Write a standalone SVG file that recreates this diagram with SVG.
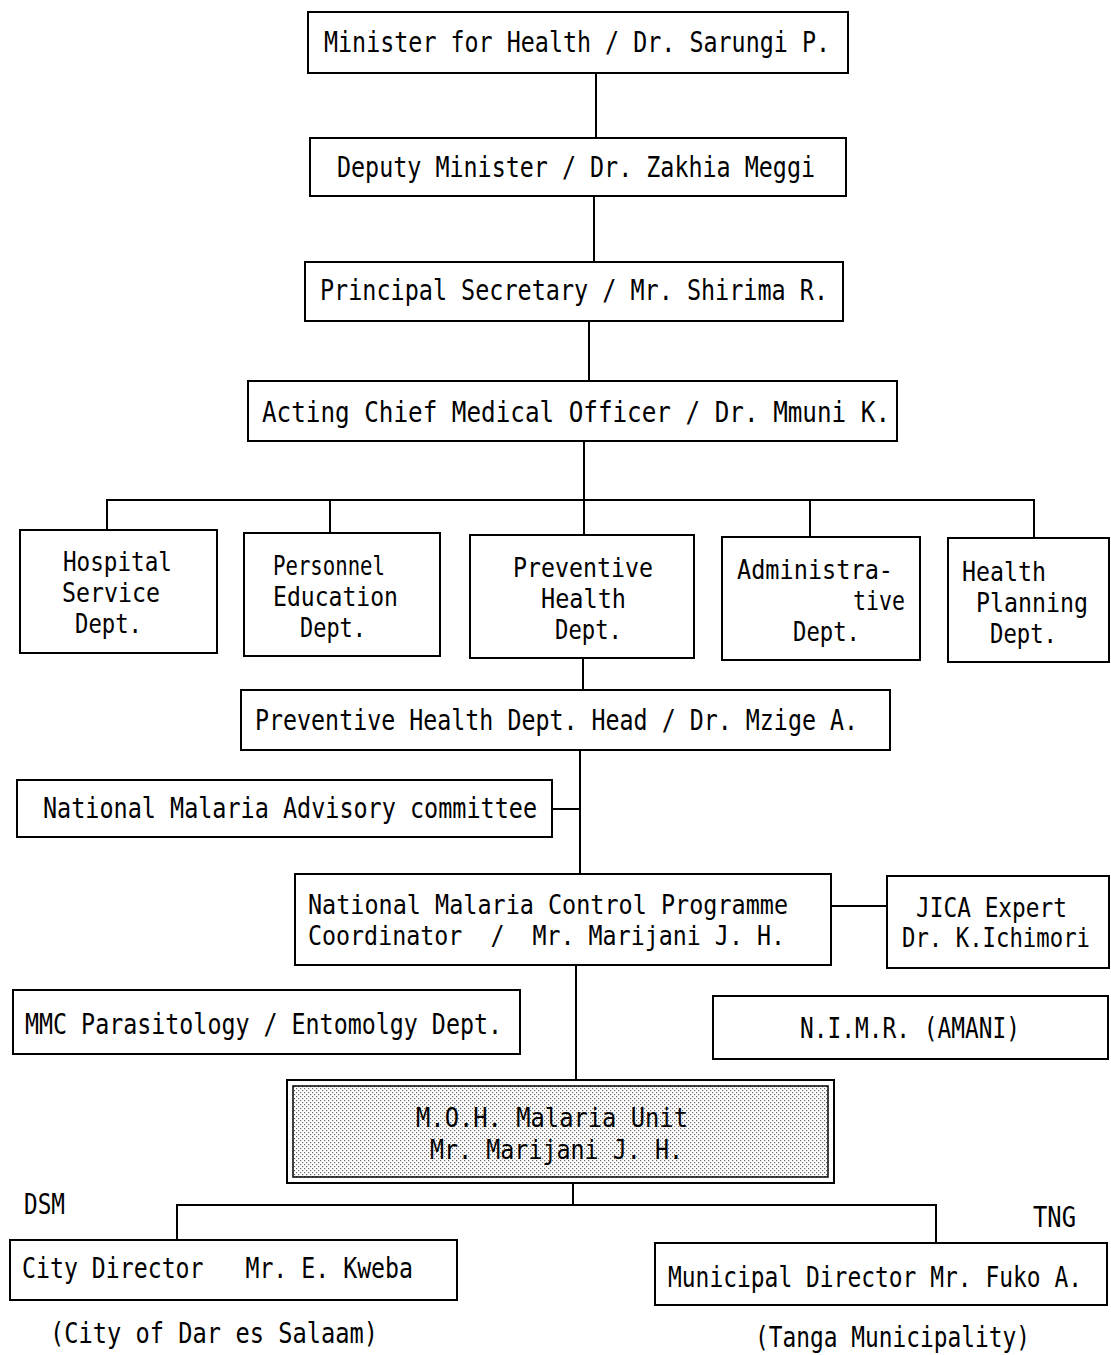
<svg xmlns="http://www.w3.org/2000/svg" width="1111" height="1355" viewBox="0 0 1111 1355">
<style>
.b{fill:#fff;stroke:#000;stroke-width:2}
.c{fill:none;stroke:#000;stroke-width:2}
text{font-family:"DejaVu Sans Mono","Liberation Mono",monospace;font-size:29px;fill:#000}
.m{font-size:26.5px}
</style>
<defs>
<pattern id="dots" width="4" height="4" patternUnits="userSpaceOnUse">
<rect width="4" height="4" fill="#fff"/>
<rect x="0" y="0" width="1.2" height="1.2" fill="#666"/>
<rect x="2" y="2" width="1.2" height="1.2" fill="#666"/>
</pattern>
</defs>
<rect width="1111" height="1355" fill="#fff"/>
<g id="connectors">
<path class="c" d="M596 73V138M594 196V262M589 321V381M584 441V500"/>
<path class="c" d="M107 530V500H1034V538M330 500V533M584 500V535M810 500V537"/>
<path class="c" d="M583 658V690M580 750V874M552 809H580M831 906H887M576 965V1080"/>
<path class="c" d="M573 1183V1205M177 1240V1205H936V1243"/>
</g>
<g id="n1"><rect class="b" x="308" y="12" width="540" height="61"/><text x="324" y="52" textLength="506" lengthAdjust="spacingAndGlyphs">Minister for Health / Dr. Sarungi P.</text></g>
<g id="n2"><rect class="b" x="310" y="138" width="536" height="58"/><text x="337" y="177" textLength="478" lengthAdjust="spacingAndGlyphs">Deputy Minister / Dr. Zakhia Meggi</text></g>
<g id="n3"><rect class="b" x="305" y="262" width="538" height="59"/><text x="320" y="300" textLength="508" lengthAdjust="spacingAndGlyphs">Principal Secretary / Mr. Shirima R.</text></g>
<g id="n4"><rect class="b" x="248" y="381" width="649" height="60"/><text x="262" y="422" textLength="628" lengthAdjust="spacingAndGlyphs">Acting Chief Medical Officer / Dr. Mmuni K.</text></g>
<g id="d1"><rect class="b" x="20" y="530" width="197" height="123"/>
<text class="m" x="63" y="571" textLength="109" lengthAdjust="spacingAndGlyphs">Hospital</text>
<text class="m" x="62" y="602" textLength="98" lengthAdjust="spacingAndGlyphs">Service</text>
<text class="m" x="75" y="633" textLength="67" lengthAdjust="spacingAndGlyphs">Dept.</text></g>
<g id="d2"><rect class="b" x="244" y="533" width="196" height="123"/>
<text class="m" x="273" y="575" textLength="112" lengthAdjust="spacingAndGlyphs">Personnel</text>
<text class="m" x="273" y="606" textLength="125" lengthAdjust="spacingAndGlyphs">Education</text>
<text class="m" x="300" y="637" textLength="66" lengthAdjust="spacingAndGlyphs">Dept.</text></g>
<g id="d3"><rect class="b" x="470" y="535" width="224" height="123"/>
<text class="m" x="513" y="577" textLength="140" lengthAdjust="spacingAndGlyphs">Preventive</text>
<text class="m" x="541" y="608" textLength="85" lengthAdjust="spacingAndGlyphs">Health</text>
<text class="m" x="555" y="639" textLength="67" lengthAdjust="spacingAndGlyphs">Dept.</text></g>
<g id="d4"><rect class="b" x="722" y="537" width="198" height="123"/>
<text class="m" x="737" y="579" textLength="156" lengthAdjust="spacingAndGlyphs">Administra-</text>
<text class="m" x="853" y="610" textLength="52" lengthAdjust="spacingAndGlyphs">tive</text>
<text class="m" x="793" y="641" textLength="67" lengthAdjust="spacingAndGlyphs">Dept.</text></g>
<g id="d5"><rect class="b" x="948" y="538" width="161" height="124"/>
<text class="m" x="962" y="581" textLength="84" lengthAdjust="spacingAndGlyphs">Health</text>
<text class="m" x="976" y="612" textLength="112" lengthAdjust="spacingAndGlyphs">Planning</text>
<text class="m" x="990" y="643" textLength="67" lengthAdjust="spacingAndGlyphs">Dept.</text></g>
<g id="n5"><rect class="b" x="241" y="690" width="649" height="60"/><text x="255" y="730" textLength="603" lengthAdjust="spacingAndGlyphs">Preventive Health Dept. Head / Dr. Mzige A.</text></g>
<g id="n6"><rect class="b" x="17" y="780" width="535" height="57"/><text x="43" y="818" textLength="494" lengthAdjust="spacingAndGlyphs">National Malaria Advisory committee</text></g>
<g id="n7"><rect class="b" x="295" y="874" width="536" height="91"/>
<text class="m" x="308" y="914" textLength="480" lengthAdjust="spacingAndGlyphs">National Malaria Control Programme</text>
<text class="m" x="308" y="945" textLength="477" lengthAdjust="spacingAndGlyphs" xml:space="preserve">Coordinator  /  Mr. Marijani J. H.</text></g>
<g id="n8"><rect class="b" x="887" y="876" width="222" height="92"/>
<text class="m" x="916" y="917" textLength="151" lengthAdjust="spacingAndGlyphs">JICA Expert</text>
<text class="m" x="902" y="947" textLength="188" lengthAdjust="spacingAndGlyphs">Dr. K.Ichimori</text></g>
<g id="n9"><rect class="b" x="13" y="990" width="507" height="64"/><text x="25" y="1034" textLength="477" lengthAdjust="spacingAndGlyphs">MMC Parasitology / Entomolgy Dept.</text></g>
<g id="n10"><rect class="b" x="713" y="996" width="395" height="63"/><text x="800" y="1038" textLength="220" lengthAdjust="spacingAndGlyphs">N.I.M.R. (AMANI)</text></g>
<g id="n11"><rect class="b" x="287" y="1080" width="547" height="103"/>
<rect x="293" y="1086" width="535" height="91" fill="url(#dots)" stroke="#000" stroke-width="1.5"/>
<text class="m" x="416" y="1127" textLength="272" lengthAdjust="spacingAndGlyphs">M.O.H. Malaria Unit</text>
<text class="m" x="430" y="1159" textLength="253" lengthAdjust="spacingAndGlyphs">Mr. Marijani J. H.</text></g>
<text x="24" y="1214" textLength="41" lengthAdjust="spacingAndGlyphs">DSM</text>
<g id="n12"><rect class="b" x="10" y="1240" width="447" height="60"/><text x="22" y="1278" textLength="391" lengthAdjust="spacingAndGlyphs" xml:space="preserve">City Director   Mr. E. Kweba</text></g>
<text x="50" y="1343" textLength="328" lengthAdjust="spacingAndGlyphs">(City of Dar es Salaam)</text>
<text x="1033" y="1227" textLength="43" lengthAdjust="spacingAndGlyphs">TNG</text>
<g id="n13"><rect class="b" x="655" y="1243" width="452" height="62"/><text x="668" y="1287" textLength="414" lengthAdjust="spacingAndGlyphs">Municipal Director Mr. Fuko A.</text></g>
<text x="755" y="1347" textLength="275" lengthAdjust="spacingAndGlyphs">(Tanga Municipality)</text>
</svg>
